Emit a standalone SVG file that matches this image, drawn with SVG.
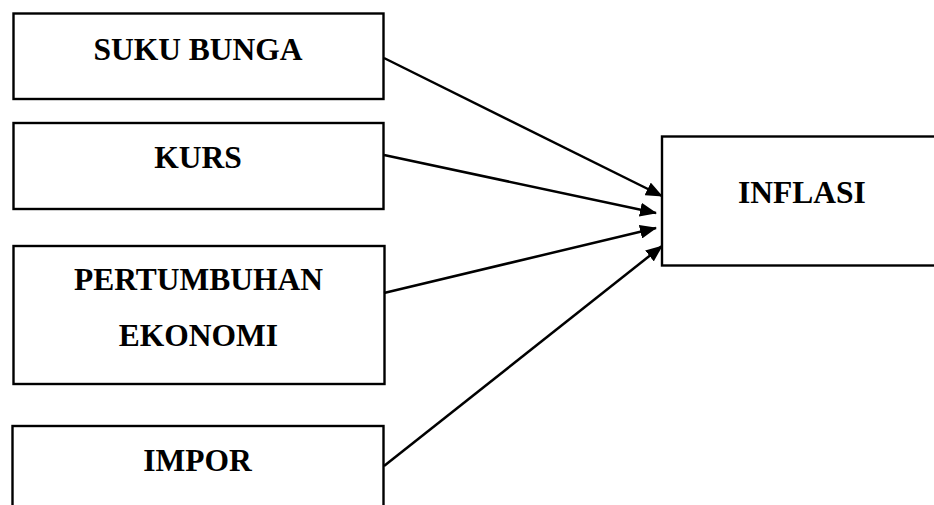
<svg xmlns="http://www.w3.org/2000/svg" width="934" height="505" viewBox="0 0 934 505">
  <style>
    .box { fill: #ffffff; stroke: #000000; stroke-width: 2.4; }
    .lbl { font-family: "Liberation Serif", "Times New Roman", serif; font-weight: bold; font-size: 31.5px; fill: #000000; text-anchor: middle; }
    .edge { stroke: #000000; stroke-width: 2.5; fill: none; marker-end: url(#arrow); }
  </style>
  <defs>
    <marker id="arrow" markerWidth="17" markerHeight="14" refX="16" refY="7" orient="auto" markerUnits="userSpaceOnUse">
      <path d="M0,0 L17,7 L0,14 Z" fill="#000000"/>
    </marker>
  </defs>
  <rect width="934" height="505" fill="#ffffff"/>

  <g id="suku-bunga">
    <rect class="box" x="13.5" y="13.5" width="370" height="85.5"/>
    <text class="lbl" x="198" y="60">SUKU BUNGA</text>
  </g>
  <g id="kurs">
    <rect class="box" x="13.5" y="123" width="370" height="86"/>
    <text class="lbl" x="198" y="168">KURS</text>
  </g>
  <g id="pertumbuhan-ekonomi">
    <rect class="box" x="13.5" y="246" width="371" height="138"/>
    <text class="lbl" x="198.5" y="290">PERTUMBUHAN</text>
    <text class="lbl" x="198.5" y="346">EKONOMI</text>
  </g>
  <g id="impor">
    <rect class="box" x="12.5" y="426" width="371" height="100"/>
    <text class="lbl" x="197.5" y="471">IMPOR</text>
  </g>
  <g id="inflasi">
    <rect class="box" x="662" y="136.5" width="290" height="129"/>
    <text class="lbl" x="802" y="203">INFLASI</text>
  </g>

  <g id="connectors">
    <line class="edge" x1="384" y1="58" x2="662" y2="196"/>
    <line class="edge" x1="384" y1="155" x2="656" y2="213"/>
    <line class="edge" x1="384" y1="293" x2="656" y2="228"/>
    <line class="edge" x1="384" y1="466" x2="662" y2="246"/>
  </g>
</svg>
